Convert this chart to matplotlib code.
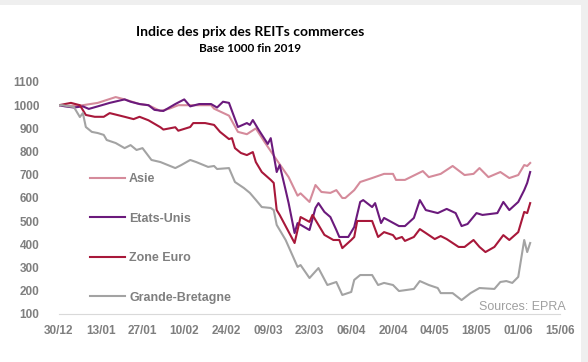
import matplotlib.pyplot as plt
from matplotlib.patches import Rectangle

# jours depuis le 30/12/2019
asie_j = [0, 3, 8, 13, 19, 22, 27, 30, 34, 37, 40, 47, 51, 52, 57, 60, 63, 66, 69, 73,
          77, 80, 81, 84, 86, 88, 91, 93, 95, 96, 99, 101, 105, 109, 112, 113, 116, 122,
          124, 128, 132, 136, 139, 141, 144, 148, 151, 154, 156, 157, 158]
asie = [1000, 997, 1000, 1010, 1035, 1025, 1005, 1000, 975, 985, 1000, 1000, 1000, 985,
        955, 885, 875, 900, 840, 764, 690, 610, 620, 583, 656, 626, 622, 634, 600, 600,
        634, 669, 686, 704, 704, 678, 678, 716, 690, 704, 738, 699, 704, 729, 690, 712,
        686, 699, 742, 738, 751]

us_j = [0, 2, 5, 8, 10, 13, 17, 22, 24, 27, 30, 32, 35, 39, 42, 44, 47, 51, 53, 55, 57,
        60, 63, 64, 65, 67, 70, 71, 73, 74, 76, 77, 79, 80, 84, 86, 87, 89, 91, 93, 94,
        97, 99, 101, 102, 105, 106, 108, 109, 114, 116, 119, 121, 123, 127, 130, 133,
        135, 137, 140, 142, 147, 149, 151, 154, 156, 157, 158]
us = [1000, 995, 990, 995, 984, 995, 1010, 1025, 1015, 1005, 1000, 980, 975, 1005, 1025,
      995, 1005, 1005, 990, 1015, 1010, 906, 923, 915, 936, 893, 833, 858, 712, 742, 634,
      578, 449, 492, 462, 557, 578, 540, 518, 462, 432, 432, 475, 583, 591, 561, 578, 492,
      514, 479, 479, 514, 591, 548, 535, 553, 535, 479, 488, 535, 527, 535, 583, 548, 583,
      634, 665, 712]

euro_j = [0, 2, 4, 7, 9, 12, 15, 17, 22, 25, 27, 30, 32, 34, 35, 39, 40, 44, 45, 49, 52,
          54, 57, 58, 59, 61, 63, 65, 66, 68, 71, 72, 73, 74, 79, 81, 84, 85, 87, 89, 92,
          94, 95, 98, 99, 100, 105, 107, 109, 112, 113, 115, 116, 119, 121, 123, 126, 128,
          130, 134, 136, 139, 141, 143, 146, 149, 151, 154, 156, 157, 158]
euro = [1000, 1005, 1010, 1000, 958, 950, 950, 966, 950, 940, 950, 935, 920, 905, 895,
        905, 890, 906, 923, 923, 915, 885, 854, 858, 815, 794, 785, 798, 755, 712, 678,
        665, 548, 527, 406, 518, 497, 527, 484, 441, 419, 419, 384, 419, 432, 501, 501,
        432, 453, 440, 423, 432, 415, 432, 466, 449, 423, 436, 423, 389, 389, 419, 389,
        367, 389, 440, 419, 453, 540, 535, 578]

gb_j = [0, 1, 5, 7, 8, 9, 11, 13, 15, 16, 19, 22, 24, 26, 28, 29, 31, 34, 39, 41, 44, 46,
        50, 52, 53, 57, 59, 62, 64, 66, 68, 71, 72, 73, 76, 80, 81, 84, 87, 90, 93, 95,
        98, 99, 101, 105, 107, 109, 112, 114, 119, 121, 124, 127, 128, 132, 135, 138,
        141, 146, 148, 150, 152, 154, 156, 157, 158]
gb = [1000, 1000, 992, 949, 966, 906, 885, 880, 872, 850, 837, 815, 828, 807, 815, 798,
      764, 755, 729, 742, 764, 755, 734, 738, 725, 729, 669, 643, 622, 592, 561, 557, 548,
      484, 419, 303, 311, 255, 298, 225, 238, 182, 195, 247, 268, 268, 225, 234, 225, 199,
      208, 242, 225, 212, 190, 190, 160, 190, 212, 208, 238, 242, 234, 260, 419, 367, 406]

tick_jours = list(range(0, 169, 14))
tick_labels = ["30/12", "13/01", "27/01", "10/02", "24/02", "09/03", "23/03",
               "06/04", "20/04", "04/05", "18/05", "01/06", "15/06"]

gris = "#7f7f7f"

fig = plt.figure(figsize=(5.88, 3.62), dpi=100)
fig.patch.set_facecolor("#efefef")
fig.patches.append(Rectangle((0, 0), 581 / 588, 357 / 362, transform=fig.transFigure,
                             facecolor="white", edgecolor="none", zorder=-5))

ax = fig.add_axes([59 / 588, 1 - 314 / 362, 501 / 588, 232 / 362])
ax.set_facecolor("none")
ax.set_zorder(2)

ax.plot(asie_j, asie, color="#d58b9b", lw=1.5, label="Asie")
ax.plot(us_j, us, color="#6b1a7c", lw=1.5, label="Etats-Unis")
ax.plot(euro_j, euro, color="#a8183a", lw=1.5, label="Zone Euro")
ax.plot(gb_j, gb, color="#a3a3a3", lw=1.5, label="Grande-Bretagne")

ax.set_xlim(0, 168)
ax.set_ylim(100, 1100)
ax.set_yticks(range(100, 1101, 100))
ax.set_xticks(tick_jours)
ax.set_xticklabels(tick_labels)

for s in ["top", "right", "left"]:
    ax.spines[s].set_visible(False)
ax.spines["bottom"].set_color("#d9d9d9")
ax.tick_params(length=0, colors=gris, labelsize=8.5)
ax.tick_params(axis="y", pad=14)
ax.tick_params(axis="x", pad=8)
for lab in ax.get_xticklabels() + ax.get_yticklabels():
    lab.set_fontweight("bold")
    lab.set_family("Liberation Sans")

leg = ax.legend(loc="upper left", bbox_to_anchor=(0.04, 0.655), frameon=False,
                handlelength=2.8, handletextpad=0.3, labelspacing=2.2,
                prop={"family": "Liberation Sans", "weight": "bold", "size": 9})
for t in leg.get_texts():
    t.set_color(gris)

fig.text(250 / 588, 1 - 32 / 362, "Indice des prix des REITs commerces", ha="center",
         va="center", fontsize=10, fontweight="bold", family="Lato")
fig.text(250 / 588, 1 - 49 / 362, "Base 1000 fin 2019", ha="center", va="center",
         fontsize=8.5, fontweight="bold", family="Lato")
fig.text(566 / 588, 1 - 307 / 362, "Sources: EPRA", ha="right", va="center",
         fontsize=9, color="#a0a0a0", family="Liberation Sans")

fig.savefig("out.png", dpi=100)
